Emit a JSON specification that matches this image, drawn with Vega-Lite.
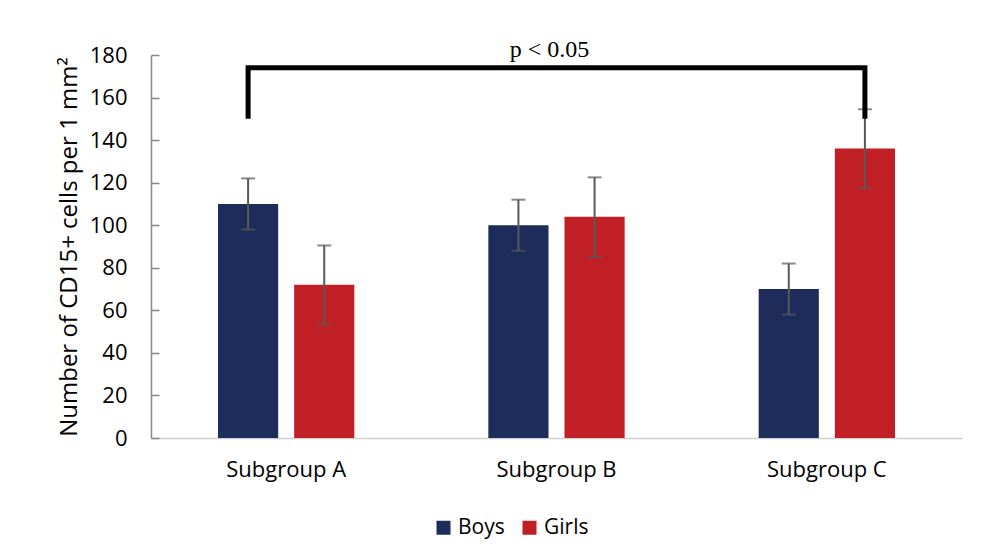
{
  "$schema": "https://vega.github.io/schema/vega-lite/v6.json",
  "width": 811,
  "height": 383,
  "autosize": "none",
  "padding": {"left": 151, "top": 55, "right": 25, "bottom": 122},
  "background": "white",
  "config": {
    "view": {"stroke": null},
    "font": "Open Sans"
  },
  "datasets": {
    "bars": [
      {"group": "Subgroup A", "sex": "Boys", "value": 110, "lo": 98, "hi": 122},
      {"group": "Subgroup A", "sex": "Girls", "value": 72, "lo": 53.5, "hi": 90.5},
      {"group": "Subgroup B", "sex": "Boys", "value": 100, "lo": 88, "hi": 112},
      {"group": "Subgroup B", "sex": "Girls", "value": 104, "lo": 85, "hi": 122.5},
      {"group": "Subgroup C", "sex": "Boys", "value": 70, "lo": 58, "hi": 82},
      {"group": "Subgroup C", "sex": "Girls", "value": 136, "lo": 117.5, "hi": 154.5}
    ],
    "bracket": [
      {"group": "Subgroup A", "sex": "Boys", "y": 150, "order": 1},
      {"group": "Subgroup A", "sex": "Boys", "y": 174, "order": 2},
      {"group": "Subgroup C", "sex": "Girls", "y": 174, "order": 3},
      {"group": "Subgroup C", "sex": "Girls", "y": 150, "order": 4}
    ],
    "label": [
      {"group": "Subgroup B", "y": 179, "text": "p < 0.05"}
    ]
  },
  "encoding": {
    "x": {
      "field": "group",
      "type": "nominal",
      "scale": {"domain": ["Subgroup A", "Subgroup B", "Subgroup C"], "paddingInner": 0, "paddingOuter": 0},
      "axis": {
        "title": null,
        "labelAngle": 0,
        "ticks": false,
        "labelFontSize": 22,
        "labelColor": "#000000",
        "labelPadding": 21,
        "domainColor": "#d0d0d0",
        "domainWidth": 1.5
      }
    }
  },
  "layer": [
    {
      "data": {"name": "bars"},
      "mark": {"type": "bar"},
      "encoding": {
        "xOffset": {
          "field": "sex",
          "type": "nominal",
          "scale": {"domain": ["Boys", "Girls"], "paddingInner": 0.21, "paddingOuter": 0.88}
        },
        "y": {
          "field": "value",
          "type": "quantitative",
          "scale": {"domain": [0, 180]},
          "axis": {
            "title": "Number of CD15+ cells per 1 mm²",
            "titleFontSize": 24,
            "titleFontWeight": "normal",
            "titleColor": "#000000",
            "titlePadding": 8,
            "values": [0, 20, 40, 60, 80, 100, 120, 140, 160, 180],
            "grid": false,
            "labelFontSize": 22,
            "labelColor": "#000000",
            "labelPadding": 32,
            "tickSize": -8,
            "tickColor": "#868686",
            "tickWidth": 1.5,
            "domainColor": "#868686",
            "domainWidth": 1.5
          }
        },
        "color": {
          "field": "sex",
          "type": "nominal",
          "scale": {"domain": ["Boys", "Girls"], "range": ["#1d2c5b", "#c11f26"]},
          "legend": {
            "title": null,
            "orient": "none",
            "legendX": 282,
            "legendY": 462,
            "direction": "horizontal",
            "symbolType": "square",
            "symbolSize": 196,
            "symbolStrokeWidth": 0,
            "symbolOffset": 0,
            "labelFontSize": 21,
            "labelColor": "#000000",
            "labelOffset": 4,
            "columnPadding": 14
          }
        }
      }
    },
    {
      "data": {"name": "bars"},
      "mark": {"type": "rule", "color": "#595959", "strokeWidth": 2},
      "encoding": {
        "xOffset": {"field": "sex", "type": "nominal"},
        "y": {"field": "lo", "type": "quantitative"},
        "y2": {"field": "hi"}
      }
    },
    {
      "data": {"name": "bars"},
      "mark": {"type": "tick", "color": "#595959", "thickness": 2, "size": 14},
      "encoding": {
        "xOffset": {"field": "sex", "type": "nominal"},
        "y": {"field": "lo", "type": "quantitative"}
      }
    },
    {
      "data": {"name": "bars"},
      "mark": {"type": "tick", "color": "#595959", "thickness": 2, "size": 14},
      "encoding": {
        "xOffset": {"field": "sex", "type": "nominal"},
        "y": {"field": "hi", "type": "quantitative"}
      }
    },
    {
      "data": {"name": "bracket"},
      "mark": {"type": "line", "color": "#000000", "strokeWidth": 5, "strokeJoin": "miter", "strokeCap": "butt"},
      "encoding": {
        "xOffset": {"field": "sex", "type": "nominal"},
        "y": {"field": "y", "type": "quantitative"},
        "order": {"field": "order", "type": "quantitative"}
      }
    },
    {
      "data": {"name": "label"},
      "mark": {"type": "text", "font": "Liberation Serif", "fontSize": 24, "color": "#000000", "baseline": "alphabetic", "dx": -7},
      "encoding": {
        "y": {"field": "y", "type": "quantitative"},
        "text": {"field": "text"}
      }
    }
  ]
}
